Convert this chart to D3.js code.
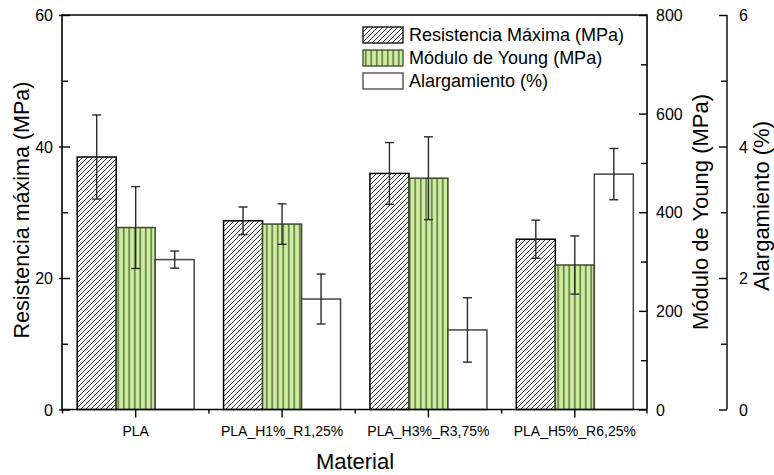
<!DOCTYPE html>
<html>
<head>
<meta charset="utf-8">
<script src="https://cdn.jsdelivr.net/npm/d3@7"></script>
<style>
  html, body { margin: 0; padding: 0; background: #fff; }
  svg { display: block; font-family: "Liberation Sans", Arial, sans-serif; }
</style>
</head>
<body>
<svg id="chart" width="774" height="475"></svg>
<script>
// Materials on the x axis
const categories = ["PLA", "PLA_H1%_R1,25%", "PLA_H3%_R3,75%", "PLA_H5%_R6,25%"];

// Tensile strength (MPa), left axis
const resistencia = [38.4, 28.7, 35.9, 25.9];
const resistenciaErr = [6.4, 2.1, 4.7, 2.9];

// Young's modulus (MPa), first right axis
const young = [369, 376, 469, 293];
const youngErr = [83, 41, 84, 59];

// Elongation (%), second right axis
const alargamiento = [2.28, 1.68, 1.21, 3.58];
const alargamientoErr = [0.13, 0.38, 0.49, 0.39];

const leftTicks = [0, 20, 40, 60];
const youngTicks = [0, 200, 400, 600, 800];
const alargTicks = [0, 2, 4, 6];

const seriesNames = ["Resistencia Máxima (MPa)", "Módulo de Young (MPa)", "Alargamiento (%)"];

const svg = d3.select("#chart");
const L = 62, R = 647, T = 15, B = 409.5, AX3 = 727;
const tickFont = 16, titleFont = 22;

const x = d3.scaleBand().domain(categories).range([L + 0.5, R + 1]).paddingInner(0).paddingOuter(0);
const yLeft = d3.scaleLinear().domain([0, 60]).range([B, T]);
const yYoung = d3.scaleLinear().domain([0, 800]).range([B, T]);
const yAlarg = d3.scaleLinear().domain([0, 6]).range([B, T]);

// fill patterns
const defs = svg.append("defs");
const hatch = defs.append("pattern").attr("id", "hatch").attr("patternUnits", "userSpaceOnUse")
  .attr("width", 5).attr("height", 5);
hatch.append("rect").attr("width", 5).attr("height", 5).attr("fill", "#fff");
hatch.append("path").attr("d", "M0,5 L5,0 M-1,1 L1,-1 M4,6 L6,4")
  .attr("stroke", "#000").attr("stroke-width", 0.8);

const vlines = defs.append("pattern").attr("id", "vlines").attr("patternUnits", "userSpaceOnUse")
  .attr("width", 5.5).attr("height", 10);
vlines.append("rect").attr("width", 5.5).attr("height", 10).attr("fill", "#ccf09a");
vlines.append("path").attr("d", "M2.75,0 L2.75,10").attr("stroke", "#2a2a2a").attr("stroke-width", 1);

const barW = 39;
const series = [
  { values: resistencia, errs: resistenciaErr, scale: yLeft, fill: "url(#hatch)", stroke: "#000" },
  { values: young, errs: youngErr, scale: yYoung, fill: "url(#vlines)", stroke: "#3a4a2a" },
  { values: alargamiento, errs: alargamientoErr, scale: yAlarg, fill: "#fff", stroke: "#444" }
];

const barX = (ci, si) => x(categories[ci]) + x.bandwidth() / 2 - 1.5 * barW + si * barW;

// bars
series.forEach((s, si) => {
  svg.append("g").selectAll("rect").data(s.values).join("rect")
    .attr("x", (d, i) => barX(i, si))
    .attr("y", d => s.scale(d))
    .attr("width", barW)
    .attr("height", d => B - s.scale(d))
    .attr("fill", s.fill)
    .attr("stroke", s.stroke)
    .attr("stroke-width", 1.5);
});

// error bars
series.forEach((s, si) => {
  const g = svg.append("g").attr("stroke", "#2b2b2b").attr("stroke-width", 1.4).attr("fill", "none");
  s.values.forEach((v, i) => {
    const cx = barX(i, si) + barW / 2;
    const y1 = s.scale(v + s.errs[i]), y2 = s.scale(v - s.errs[i]);
    g.append("line").attr("x1", cx).attr("x2", cx).attr("y1", y1).attr("y2", y2);
    g.append("line").attr("x1", cx - 4.5).attr("x2", cx + 4.5).attr("y1", y1).attr("y2", y1);
    g.append("line").attr("x1", cx - 4.5).attr("x2", cx + 4.5).attr("y1", y2).attr("y2", y2);
  });
});

// frame
svg.append("path")
  .attr("d", `M${L},${B} L${L},${T} L${R},${T} L${R},${B}`)
  .attr("fill", "none").attr("stroke", "#000").attr("stroke-width", 1.6);

// left axis
const gl = svg.append("g").attr("transform", `translate(${L},0)`);
gl.call(d3.axisLeft(yLeft).tickValues(d3.range(0, 61, 10)).tickSize(0).tickFormat(""))
  .call(g => g.select(".domain").remove());
gl.selectAll(".tick").each(function(d) {
  const major = leftTicks.includes(d);
  d3.select(this).append("line").attr("x1", major ? -3 : 0).attr("x2", major ? 8 : 6)
    .attr("stroke", "#000").attr("stroke-width", 1.4);
  if (major) d3.select(this).append("text").attr("x", -9).attr("dy", "0.35em")
    .attr("text-anchor", "end").attr("font-size", tickFont).attr("fill", "#000").text(d);
});

// Young axis (right side of the frame)
const gy = svg.append("g").attr("transform", `translate(${R},0)`);
gy.call(d3.axisRight(yYoung).tickValues(d3.range(0, 801, 100)).tickSize(0).tickFormat(""))
  .call(g => g.select(".domain").remove());
gy.selectAll(".tick").each(function(d) {
  const major = youngTicks.includes(d);
  d3.select(this).append("line").attr("x1", major ? -8 : -6).attr("x2", 0)
    .attr("stroke", "#000").attr("stroke-width", 1.4);
  if (major) d3.select(this).append("text").attr("x", 9).attr("dy", "0.35em")
    .attr("text-anchor", "start").attr("font-size", tickFont).attr("fill", "#000").text(d);
});

// Elongation axis
const ga = svg.append("g").attr("transform", `translate(${AX3},0)`);
ga.append("line").attr("y1", T).attr("y2", B).attr("stroke", "#000").attr("stroke-width", 1.4);
ga.call(g => g.append("g").call(d3.axisRight(yAlarg).tickValues(d3.range(0, 7, 1)).tickSize(0).tickFormat(""))
  .call(a => a.select(".domain").remove()));
ga.selectAll(".tick").each(function(d) {
  const major = alargTicks.includes(d);
  d3.select(this).append("line").attr("x1", major ? -8 : -6).attr("x2", 0)
    .attr("stroke", "#000").attr("stroke-width", 1.4);
  if (major) d3.select(this).append("text").attr("x", 12).attr("dy", "0.35em")
    .attr("text-anchor", "start").attr("font-size", tickFont).attr("fill", "#000").text(d);
});

// bottom axis
const gb = svg.append("g").attr("transform", `translate(0,${B})`);
gb.append("line").attr("x1", L).attr("x2", R).attr("stroke", "#000").attr("stroke-width", 1.6);
gb.call(g => g.append("g").call(d3.axisBottom(x).tickSize(0).tickFormat(""))
  .call(a => a.select(".domain").remove()));
gb.selectAll(".tick").each(function(d) {
  d3.select(this).append("line").attr("y1", 0).attr("y2", 8).attr("stroke", "#000").attr("stroke-width", 1.4);
  d3.select(this).append("text").attr("y", 26.5).attr("text-anchor", "middle")
    .attr("font-size", 14).attr("fill", "#000").text(d);
});
categories.forEach(c => {
  const bx = x(c);
  gb.append("line").attr("x1", bx).attr("x2", bx).attr("y1", 0).attr("y2", 4)
    .attr("stroke", "#000").attr("stroke-width", 1.4);
});
gb.append("line").attr("x1", R).attr("x2", R).attr("y1", 0).attr("y2", 4)
  .attr("stroke", "#000").attr("stroke-width", 1.4);

// axis titles
svg.append("text").attr("x", 355).attr("y", 469).attr("text-anchor", "middle")
  .attr("font-size", titleFont).text("Material");
svg.append("text").attr("transform", `translate(29,210) rotate(-90)`).attr("text-anchor", "middle")
  .attr("font-size", 21.5).text("Resistencia máxima (MPa)");
svg.append("text").attr("transform", `translate(708,212) rotate(-90)`).attr("text-anchor", "middle")
  .attr("font-size", titleFont).text("Módulo de Young (MPa)");
svg.append("text").attr("transform", `translate(769,206) rotate(-90)`).attr("text-anchor", "middle")
  .attr("font-size", titleFont).text("Alargamiento (%)");

// legend
const legend = svg.append("g").attr("transform", "translate(363,27)");
seriesNames.forEach((name, i) => {
  const row = legend.append("g").attr("transform", `translate(0,${i * 23})`);
  row.append("rect").attr("width", 40).attr("height", 16)
    .attr("fill", series[i].fill).attr("stroke", series[i].stroke).attr("stroke-width", 1.3);
  row.append("text").attr("x", 46).attr("y", 8).attr("dy", "0.35em")
    .attr("font-size", 18).attr("fill", "#000").text(name);
});
</script>
</body>
</html>
